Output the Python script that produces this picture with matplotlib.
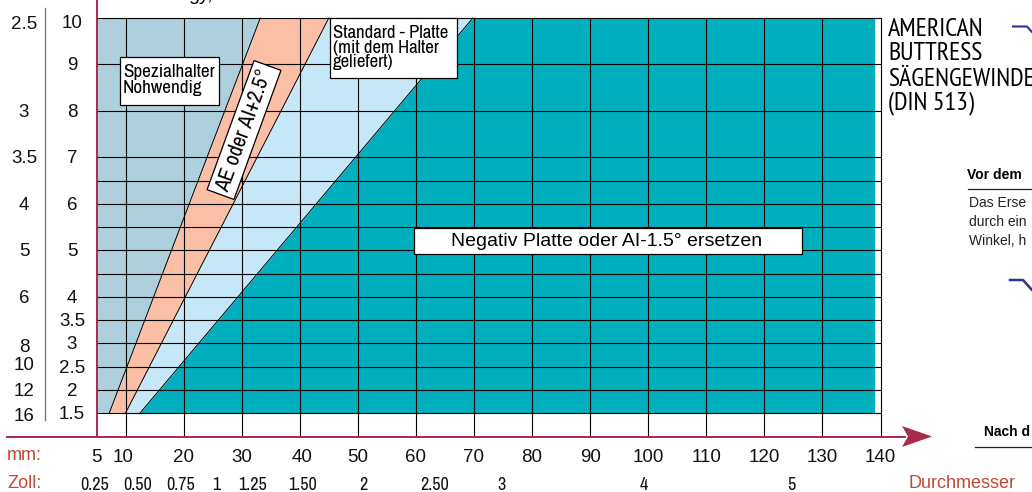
"""Saegengewinde chart: insert selection by diameter and pitch."""

import matplotlib

matplotlib.use("Agg")
import matplotlib.pyplot as plt
from matplotlib.patches import Rectangle
from matplotlib.transforms import Affine2D

# pitch range covered by the zones
pitch_ends = [1.5, 10]
# zone boundaries (diameter in mm at pitch 1.5 and 10)
spezial_edge = [7.2, 33.2]
ae_edge = [10, 45]
standard_edge = [12.5, 69.8]
fill_start = 5
fill_end = 139.0

pitch_lines = [1.5, 2, 2.5, 3, 3.5, 4, 4.5, 5, 5.5, 6, 6.5, 7, 8, 9, 10]
mm_lines = [10, 20, 30, 40, 50, 60, 70, 80, 90, 100, 110, 120, 130, 140]

pitch_ticks = [10, 9, 8, 7, 6, 5, 4, 3.5, 3, 2.5, 2, 1.5]
pitch_labels = ["10", "9", "8", "7", "6", "5", "4", "3.5", "3", "2.5", "2", "1.5"]
tpi_ticks = [9.9, 8, 7, 6, 5, 4, 2.95, 2.55, 2, 1.46]
tpi_labels = ["2.5", "3", "3.5", "4", "5", "6", "8", "10", "12", "16"]

mm_ticks = [5, 9.6, 20, 30, 40.4, 50, 60, 70, 80, 90, 100, 110, 120, 130, 140]
mm_labels = ["5", "10", "20", "30", "40", "50", "60", "70", "80", "90", "100", "110", "120", "130", "140"]
zoll_ticks = [4.7, 12, 19.4, 25.7, 31.8, 40.4, 50.9, 63.2, 74.7, 99.3, 124.6]
zoll_labels = ["0.25", "0.50", "0.75", "1", "1.25", "1.50", "2", "2.50", "3", "4", "5"]

C_SPEZIAL = "#AED0DC"
C_AE = "#FBBFA5"
C_STANDARD = "#C5E7F8"
C_NEGATIV = "#00AFBD"
C_AXIS = "#A82C4A"
C_LABEL = "#C0492F"
C_BLUE = "#2E3192"

SANS = ["Liberation Sans", "DejaVu Sans"]
NARROW = ["Archivo Narrow", "Liberation Sans", "DejaVu Sans"]
TITLE = ["PT Sans Narrow", "Liberation Sans", "DejaVu Sans"]

W, H = 1032, 492
fig = plt.figure(figsize=(W / 100, H / 100), dpi=100)
ax = fig.add_axes([0, 0, 1, 1])
ax.axis("off")

# scale: 5 mm at x=96.5 px, 140 mm at x=880.5 px; pitch 10 at y=18 px, 1.5 at y=413 px
mm_per_px = 135 / 784
pitch_per_px = 8.5 / 395
ax.set_xlim(5 - 96.5 * mm_per_px, 5 + (W - 96.5) * mm_per_px)
ax.set_ylim(10 - (H - 18) * pitch_per_px, 10 + 18 * pitch_per_px)

# pixel coordinates for the page furniture around the chart
px = Affine2D().scale(1 / W, -1 / H).translate(0, 1) + fig.transFigure

y_axis = 10 - (436.5 - 18) * pitch_per_px

ax.fill_betweenx(pitch_ends, fill_start, spezial_edge, color=C_SPEZIAL, lw=0, zorder=1)
ax.fill_betweenx(pitch_ends, spezial_edge, ae_edge, color=C_AE, lw=0, zorder=1)
ax.fill_betweenx(pitch_ends, ae_edge, standard_edge, color=C_STANDARD, lw=0, zorder=1)
ax.fill_betweenx(pitch_ends, standard_edge, fill_end, color=C_NEGATIV, lw=0, zorder=1)

for edge in (spezial_edge, ae_edge, standard_edge):
    ax.plot(edge, pitch_ends, color="black", lw=0.7, zorder=2)

for p in pitch_lines:
    ax.plot([5, 140], [p, p], color="black", lw=0.8, zorder=2)
for m in mm_lines:
    ax.plot([m, m], [y_axis, 10], color="black", lw=0.8, zorder=2)

# axes lines
ax.plot([7, 905], [436.5, 436.5], color=C_AXIS, lw=1.4, transform=px, zorder=3)
ax.plot([97, 97], [0, 436.5], color=C_AXIS, lw=1.4, transform=px, zorder=3)
ax.plot([45, 45], [8, 420], color="#777777", lw=1.0, transform=px, zorder=3)
ax.fill([902, 932, 902, 908], [426, 436.5, 447, 436.5], color=C_AXIS, lw=0, transform=px, zorder=3)

# tick labels
for p, lab in zip(pitch_ticks, pitch_labels):
    y = 18 + (10 - p) / pitch_per_px
    ax.text(72, y + (5 if p == 10 else 1.5), lab, fontsize=13.5, family=SANS, ha="center", va="center",
            color="#111111", transform=px)
for p, lab in zip(tpi_ticks, tpi_labels):
    y = 18 + (10 - p) / pitch_per_px
    ax.text(24, y + 1.5, lab, fontsize=13.5, family=SANS, ha="center", va="center",
            color="#111111", transform=px)
for m, lab in zip(mm_ticks, mm_labels):
    x = 96.5 + (m - 5) / mm_per_px
    ax.text(x, 457.5, lab, fontsize=13.5, family=SANS, ha="center", va="center",
            color="#111111", transform=px)
for m, lab in zip(zoll_ticks, zoll_labels):
    x = 96.5 + (m - 5) / mm_per_px
    ax.text(x, 485.5, lab, fontsize=13, family=NARROW, ha="center", va="center",
            color="#111111", transform=px)

ax.text(7, 456, "mm:", fontsize=13, family=SANS, color=C_LABEL, va="center", transform=px)
ax.text(7, 484, "Zoll:", fontsize=13, family=SANS, color=C_LABEL, va="center", transform=px)
ax.text(908, 484, "Durchmesser", fontsize=13, family=SANS, color=C_LABEL, va="center", transform=px)


def label_box(x0, y0, x1, y1):
    ax.add_patch(Rectangle((x0, y0), x1 - x0, y1 - y0, fc="white", ec="black", lw=0.9,
                           transform=px, zorder=4))


label_box(119.5, 56.5, 219, 104.5)
ax.text(123, 80.5, "Spezialhalter\nNohwendig", fontsize=13.8, family=NARROW, va="center",
        linespacing=1.0, transform=px, zorder=5)

label_box(329.5, 18, 457, 78)
ax.text(333, 47.5, "Standard - Platte\n(mit dem Halter\ngeliefert)", fontsize=13.5, family=NARROW, va="center",
        linespacing=0.92, transform=px, zorder=5)

label_box(414, 228, 802, 254)
ax.text(607, 241, "Negativ Platte oder AI-1.5° ersetzen", fontsize=14, family=SANS, ha="center", va="center",
        transform=px, zorder=5)

ax.text(244, 130, "AE oder AI+2.5°", fontsize=15.5, family=NARROW, ha="center", va="center", rotation=70,
        rotation_mode="anchor", transform=px, zorder=5,
        bbox=dict(boxstyle="square,pad=0.2", fc="white", ec="black", lw=0.9))

# neighbouring page content cut off by the crop
ax.text(888, 30, "AMERICAN", fontsize=18.6, family=TITLE, va="center", transform=px)
ax.text(888, 54, "BUTTRESS", fontsize=18.6, family=TITLE, va="center", transform=px)
ax.text(888, 79, "SÄGENGEWINDE", fontsize=18.6, family=TITLE, va="center", transform=px)
ax.text(888, 103, "(DIN 513)", fontsize=18.6, family=TITLE, va="center", transform=px)

ax.text(967, 175, "Vor dem", fontsize=10, family=SANS, weight="bold", va="center", transform=px)
ax.plot([968, 1032], [188.5, 188.5], color="#222222", lw=0.9, transform=px)
ax.text(969, 203, "Das Erse", fontsize=10, family=SANS, va="center", color="#222222", transform=px)
ax.text(969, 222, "durch ein", fontsize=10, family=SANS, va="center", color="#222222", transform=px)
ax.text(969, 241, "Winkel, h", fontsize=10, family=SANS, va="center", color="#222222", transform=px)

ax.text(984, 432, "Nach d", fontsize=10, family=SANS, weight="bold", va="center", transform=px)
ax.plot([975, 1032], [447, 447], color="#222222", lw=0.9, transform=px)

ax.plot([1013, 1027, 1032], [26.5, 26.5, 32], color=C_BLUE, lw=1.5, transform=px)
ax.plot([1010, 1023, 1032], [280, 280, 290], color=C_BLUE, lw=1.8, transform=px)

# fragment of the heading above the crop
ax.text(200, -5, "gy,", fontsize=14, family=SANS, ha="center", va="center", transform=px, clip_on=True)

fig.savefig("out.png", dpi=100)
